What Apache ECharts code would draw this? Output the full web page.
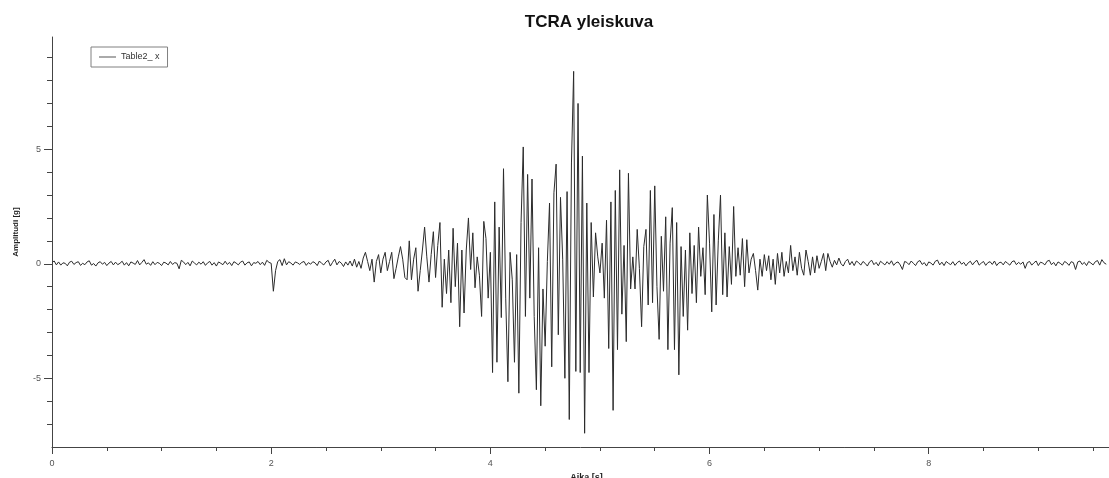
<!DOCTYPE html>
<html><head><meta charset="utf-8">
<script src="https://cdn.jsdelivr.net/npm/echarts@6/dist/echarts.min.js"></script>
<style>html,body{margin:0;padding:0;background:#fff}#chart{width:1109px;height:478px}</style>
</head><body><div id="chart"></div>
<script>
const chartTitle = 'TCRA yleiskuva';
const seriesName = 'Table2_ x';
const xName = 'Aika [s]';
const yName = 'Amplitudi [g]';
const dt = 0.02; // sample step in seconds

// 0.00 s – 2.70 s : pre-event noise
const preEvent = [
  0.06, 0.12, -0.05, 0.08, -0.06, 0.04, 0.02, -0.09, 0.07, 0.11,
  -0.03, 0.05, 0.09, -0.07, 0.02, -0.04, 0.08, 0.13, -0.06, 0.01,
  -0.1, 0.04, 0.09, -0.02, 0.06, -0.08, 0.03, 0.1, -0.05, 0.07,
  -0.04, 0.02, 0.11, -0.06, 0.05, -0.09, 0.08, 0.03, -0.03, 0.14,
  -0.05, 0.06, 0.18, -0.02, 0.04, -0.07, 0.09, -0.04, 0.06, 0.02,
  -0.08, 0.07, 0.03, -0.05, 0.1, -0.03, 0.05, 0.02, -0.22, 0.15,
  0.08, -0.04, 0.06, -0.09, 0.12, 0.03, -0.05, 0.07, -0.02, 0.09,
  -0.07, 0.04, 0.1, -0.06, 0.05, -0.1, 0.08, 0.02, -0.04, 0.11,
  -0.03, 0.06, -0.08, 0.09, 0.03, -0.05, 0.07, 0.12, -0.06, 0.04,
  0.08, -0.09, 0.05, 0.02, 0.1, -0.04, 0.07, -0.07, 0.15, 0.06,
  0.02, -1.2, -0.3, 0.1, 0.18, -0.08, 0.22, -0.05, 0.09, 0.03,
  -0.06, 0.08, 0.04, -0.03, 0.06, 0.1, -0.07, 0.05, -0.02, 0.09,
  0.04, -0.08, 0.12, 0.02, -0.05, 0.08, 0.15, -0.1, 0.06, 0.2,
  -0.05, 0.1, 0.03, -0.12, 0.08, -0.06
];

// 2.72 s – 7.30 s : strong motion
const strongMotion = [
  0.12, -0.1, 0.2, -0.15, 0.1, -0.2, 0.25, 0.5, 0.1, -0.3,
  0.2, -0.8, 0.1, 0.4, -0.4, 0.2, 0.5, -0.3, 0.1, 0.5,
  -0.65, -0.2, 0.3, 0.75, 0.2, -0.6, -0.7, 1.0, -0.7, 0.2,
  0.7, -1.2, -0.3, 0.6, 1.6, 0.3, -0.8, 0.4, 1.4, -0.6,
  0.8, 1.8, -1.9, 0.2, -1.3, 0.6, -1.7, 1.55, -1.0, 0.9,
  -2.75, 0.6, -2.15, 0.6, 2.0, -0.25, 1.35, -1.05, 0.3, -0.5,
  -2.3, 1.85, 1.1, -1.5, 0.5, -4.75, 2.7, -4.3, 1.6, -2.35,
  4.15, -1.5, -5.15, 0.5, -0.7, -4.3, 0.4, -5.65, 1.8, 5.1,
  -2.3, 3.9, -1.5, 3.7, -2.3, -5.5, 0.7, -6.2, -1.1, -3.6,
  0.1, 2.65, -4.5, 3.1, 4.35, -3.1, 2.9, 0.2, -5.0, 3.15,
  -6.8, 4.4, 8.4, -4.7, 7.0, -4.75, 4.7, -7.4, 2.65, -4.75,
  1.8, -1.45, 1.35, 0.3, -0.4, 0.9, -1.5, 1.9, -3.7, 2.7,
  -6.4, 3.2, -3.75, 4.1, -2.2, 0.8, -3.4, 3.95, -1.1, 0.3,
  -1.1, 1.5, -0.2, -2.75, 0.75, 1.5, -1.8, 3.2, -1.7, 3.4,
  -1.0, -3.3, 1.2, -1.2, 2.05, -3.75, 0.9, 2.45, -3.75, 1.8,
  -4.85, 0.75, -2.3, 0.6, -2.9, 1.35, -1.3, 0.8, -1.7, 1.6,
  -0.55, 0.7, -1.35, 3.0, 0.9, -2.1, 2.15, -1.8, 1.0, 3.0,
  -1.35, 1.35, -1.45, 0.75, -0.9, 2.5, -0.55, 0.7, -0.5, 1.1,
  -1.0, 1.05, -0.4, 0.2, 0.45, -0.3, -1.15, 0.2, -0.55, 0.4,
  -0.3, 0.35, -0.7, 0.2, -0.9, 0.45, -0.4, 0.5, -0.55, 0.1,
  -0.4, 0.8, -0.3, 0.3, -0.5, 0.5, -0.2, -0.5, 0.6, 0.1,
  -0.5, 0.3, -0.4, 0.35, -0.2, 0.1, 0.45, -0.3, 0.45, 0.1,
  -0.15, 0.15, -0.05, 0.25, 0.0, -0.1, 0.1, 0.2, -0.05, 0.1
];

// 7.32 s – 9.62 s : coda noise
const coda = [
  -0.08, 0.12, 0.05, -0.06, 0.1, 0.02, -0.1, 0.08, 0.15, -0.04,
  0.06, -0.09, 0.11, 0.03, -0.05, 0.09, -0.02, 0.13, -0.07, 0.04,
  0.08, -0.05, -0.25, 0.1, 0.06, -0.04, 0.12, 0.02, -0.08, 0.09,
  0.14, -0.03, 0.05, -0.1, 0.08, 0.03, -0.06, 0.11, 0.16, -0.05,
  0.07, -0.08, 0.1, 0.02, -0.04, 0.09, -0.07, 0.05, 0.12, -0.02,
  0.06, -0.09, 0.04, 0.11, -0.05, 0.08, 0.15, -0.06, 0.03, 0.1,
  -0.07, 0.05, 0.09, -0.03, 0.12, -0.08, 0.04, 0.07, -0.05, 0.1,
  0.02, -0.06, 0.09, 0.13, -0.04, 0.06, -0.02, 0.08, -0.2, 0.05,
  0.1, -0.06, 0.04, 0.12, -0.08, 0.07, 0.03, -0.05, 0.11, 0.15,
  -0.04, 0.06, -0.09, 0.08, 0.02, -0.06, 0.1, 0.04, -0.07, 0.09,
  0.05, -0.25, 0.08, 0.12, -0.03, 0.06, -0.08, 0.1, 0.03, -0.05,
  0.09, 0.14, -0.06, 0.18, 0.04, -0.02
];

const xMajorTicks = [0, 2, 4, 6, 8];
const xMinorTicks = [0.5, 1, 1.5, 2.5, 3, 3.5, 4.5, 5, 5.5, 6.5, 7, 7.5, 8.5, 9, 9.5];
const yMajorTicks = [-5, 0, 5];
const yMinorTicks = [-7, -6, -4, -3, -2, -1, 1, 2, 3, 4, 6, 7, 8, 9];

const amplitude = preEvent.concat(strongMotion, coda);
const points = amplitude.map((v, i) => [Math.round(i * dt * 100) / 100, v]);

const font = '"Liberation Sans", Arial, sans-serif';
const axisColor = '#444';
const xRange = { min: 0, max: 9.645 };
const yRange = { min: -8, max: 9.9 };

const chart = echarts.init(document.getElementById('chart'), null, { renderer: 'canvas' });
chart.setOption({
  animation: false,
  backgroundColor: '#ffffff',
  title: {
    text: chartTitle, left: 584, top: 9, textAlign: 'center',
    textStyle: { fontFamily: font, fontSize: 17, fontWeight: 'bold', color: '#111' }
  },
  legend: {
    data: [{ name: seriesName, icon: 'rect' }], left: 91, top: 47, orient: 'vertical',
    padding: [5, 8, 5, 8], itemWidth: 17, itemHeight: 1, itemGap: 0,
    itemStyle: { color: '#555' },
    borderColor: '#808080', borderWidth: 1, backgroundColor: '#fff',
    textStyle: { fontFamily: font, fontSize: 9, color: '#333', lineHeight: 10 }
  },
  grid: { left: 52, right: 0, top: 37, bottom: 31, containLabel: false, outerBoundsMode: 'none' },
  xAxis: [
    {
      type: 'value', ...xRange, position: 'bottom',
      name: xName, nameLocation: 'middle', nameGap: 17,
      nameTextStyle: { fontFamily: font, fontSize: 9, fontWeight: 'bold', color: '#222', padding: [0, 0, 0, 12] },
      axisLine: { show: true, onZero: false, lineStyle: { color: axisColor, width: 1 } },
      axisTick: { show: true, customValues: xMajorTicks, length: 7, lineStyle: { color: axisColor } },
      axisLabel: { customValues: xMajorTicks, margin: 12, fontFamily: font, fontSize: 9, color: '#555' },
      splitLine: { show: false }
    },
    {
      type: 'value', ...xRange, position: 'bottom', offset: 0,
      axisLine: { show: false, onZero: false },
      axisTick: { show: true, customValues: xMinorTicks, length: 4, lineStyle: { color: axisColor } },
      axisLabel: { show: false }, splitLine: { show: false }
    }
  ],
  yAxis: [
    {
      type: 'value', ...yRange, position: 'left',
      name: yName, nameLocation: 'middle', nameGap: 32, nameRotate: 90,
      nameTextStyle: { fontFamily: font, fontSize: 8, fontWeight: 'bold', color: '#222', padding: [0, 0, 0, 20] },
      axisLine: { show: true, onZero: false, lineStyle: { color: axisColor, width: 1 } },
      axisTick: { show: true, customValues: yMajorTicks, length: 8, lineStyle: { color: axisColor } },
      axisLabel: { customValues: yMajorTicks, margin: 11, fontFamily: font, fontSize: 9, color: '#555' },
      splitLine: { show: false }
    },
    {
      type: 'value', ...yRange, position: 'left', offset: 0,
      axisLine: { show: false, onZero: false },
      axisTick: { show: true, customValues: yMinorTicks, length: 5, lineStyle: { color: axisColor } },
      axisLabel: { show: false }, splitLine: { show: false }
    }
  ],
  series: [{
    name: seriesName, type: 'line', data: points,
    xAxisIndex: 0, yAxisIndex: 0,
    symbol: 'none', showSymbol: false, sampling: null,
    lineStyle: { color: '#2b2b2b', width: 1 }, itemStyle: { color: '#2b2b2b' }
  }]
});
</script>
</body></html>
